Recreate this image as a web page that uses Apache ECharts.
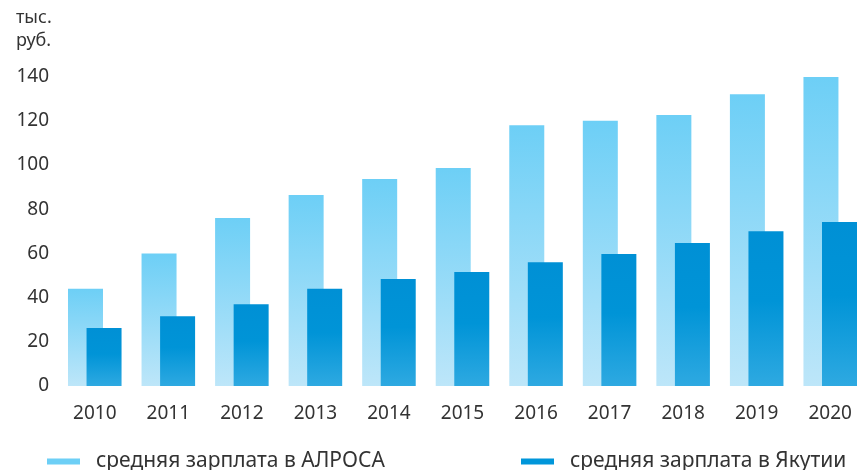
<!DOCTYPE html>
<html>
<head>
<meta charset="utf-8">
<script src="https://cdn.jsdelivr.net/npm/echarts@6/dist/echarts.min.js"></script>
<style>
  html, body { margin: 0; padding: 0; background: #fff; }
  #chart { width: 867px; height: 470px; }
</style>
</head>
<body>
<div id="chart"></div>
<script>
const years = ["2010", "2011", "2012", "2013", "2014", "2015", "2016", "2017", "2018", "2019", "2020"];
const alrosa = [44, 60, 76, 86.4, 93.7, 98.6, 118, 120, 122.6, 132, 139.8];
const yakutia = [26.2, 31.6, 37, 44, 48.4, 51.6, 56, 59.7, 64.7, 70, 74.2];
const seriesNames = ["средняя зарплата в АЛРОСА", "средняя зарплата в Якутии"];
const unitLabel = "тыс.\nруб.";

const fontFamily = "'Noto Sans', sans-serif";
const textColor = "#333333";

const chart = echarts.init(document.getElementById("chart"));

const legendText = {
  fontFamily: fontFamily,
  fontSize: 21,
  color: textColor,
  padding: [0, 0, 0, 11],
};

const option = {
  animation: false,
  title: {
    text: unitLabel,
    left: 11,
    top: 1,
    textStyle: {
      fontFamily: fontFamily,
      fontSize: 18,
      fontWeight: "normal",
      color: textColor,
      lineHeight: 23,
    },
  },
  legend: [
    {
      left: 42,
      top: 446,
      itemWidth: 33,
      itemHeight: 6,
      icon: "rect",
      data: [{ name: seriesNames[0], itemStyle: { color: "#6dcff6" } }],
      textStyle: legendText,
    },
    {
      left: 516,
      top: 446,
      itemWidth: 33,
      itemHeight: 6,
      icon: "rect",
      data: [{ name: seriesNames[1], itemStyle: { color: "#0096da" } }],
      textStyle: legendText,
    },
  ],
  grid: {
    left: 58,
    top: 76.6,
    width: 817,
    height: 309.4,
    containLabel: false,
  },
  xAxis: {
    type: "category",
    data: years,
    axisLine: { show: false },
    axisTick: { show: false },
    axisLabel: {
      margin: 18,
      fontFamily: fontFamily,
      fontSize: 19,
      color: textColor,
    },
  },
  yAxis: {
    type: "value",
    min: 0,
    max: 140,
    interval: 20,
    splitLine: { show: false },
    axisLine: { show: false },
    axisTick: { show: false },
    axisLabel: {
      margin: 9,
      fontFamily: fontFamily,
      fontSize: 19,
      color: textColor,
    },
  },
  series: [
    {
      name: seriesNames[0],
      type: "bar",
      data: alrosa,
      barWidth: 35,
      barGap: "-47%",
      itemStyle: {
        color: new echarts.graphic.LinearGradient(0, 0, 0, 1, [
          { offset: 0, color: "#6dcff6" },
          { offset: 1, color: "#bde6f9" },
        ]),
      },
    },
    {
      name: seriesNames[1],
      type: "bar",
      data: yakutia,
      barWidth: 35,
      itemStyle: {
        color: new echarts.graphic.LinearGradient(0, 0, 0, 1, [
          { offset: 0, color: "#0090d5" },
          { offset: 0.45, color: "#0094d7" },
          { offset: 1, color: "#2ea9e1" },
        ]),
      },
    },
  ],
};

chart.setOption(option);
</script>
</body>
</html>
